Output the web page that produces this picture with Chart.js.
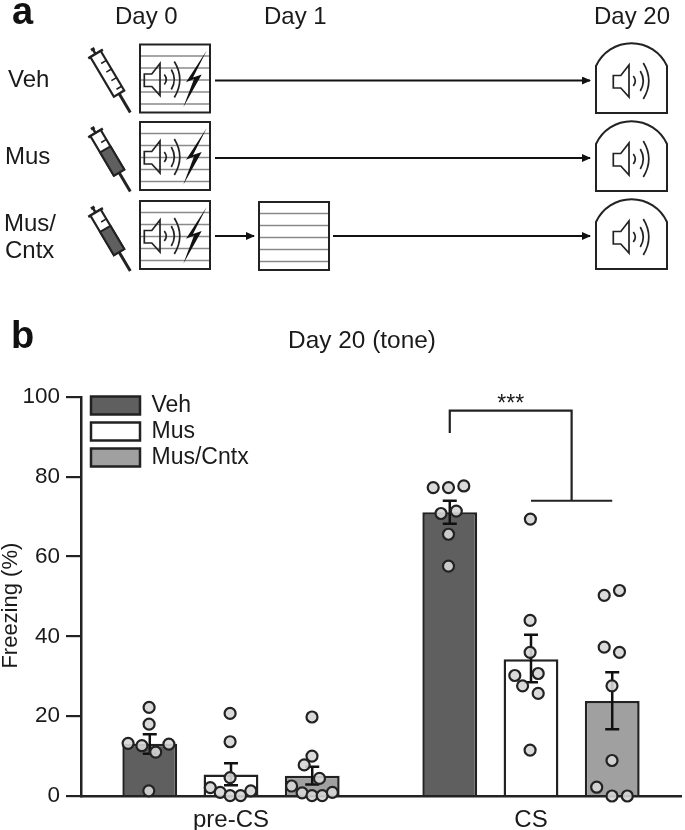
<!DOCTYPE html>
<html>
<head>
<meta charset="utf-8">
<title>Freezing</title>
<script src="https://cdn.jsdelivr.net/npm/chart.js@4"></script>
<style>
body{margin:0;background:#fff}
#wrap{position:relative;width:685px;height:830px;overflow:hidden}
#regions{position:absolute;left:0;top:0}
#scheme{position:absolute;left:0;top:0}
#scheme text{font-family:"Liberation Sans",Arial,sans-serif;font-size:24px;fill:#1a1a1a}
#scheme .panel{font-size:38px;font-weight:bold;fill:#111}
</style>
</head>
<body>
<div id="wrap">
<canvas id="regions" width="685" height="830"></canvas>
<svg id="scheme" width="685" height="280" viewBox="0 0 685 280">
  <defs>
    <g id="spk" fill="none" stroke="#222" stroke-width="1.7">
      <path d="M0,-5.5 H7.5 L15.7,-16 V16 L7.5,7 H0 Z"/>
      <path d="M20,-5 Q24,0 20,5"/>
      <path d="M27,-10 Q33,0 27,10"/>
      <path d="M30,-18 Q41,0 30,18"/>
    </g>
    <g id="box">
      <rect x="0" y="0" width="70" height="68" fill="#fff" stroke="#222" stroke-width="2"/>
      <path d="M1,11.5 H69 M1,23.5 H69 M1,35.5 H69 M1,47.5 H69 M1,59.5 H69" stroke="#8a8a8a" stroke-width="1.5"/>
    </g>
    <g id="shock">
      <use href="#box"/>
      <use href="#spk" x="4.3" y="35"/>
      <path d="M66.7,6 L46,37.7 L54,34.5 L43.3,62.7 L61.7,30 L53,33 Z" fill="#111"/>
    </g>
    <g id="chamber">
      <path d="M0,70 V23 A39,39 0 0 1 71,23 V70 Z" fill="#fff" stroke="#222" stroke-width="2"/>
      <use href="#spk" x="17.3" y="38"/>
    </g>
    <g id="syr" stroke="#222" fill="none">
      <rect x="-2" y="0" width="4" height="3" fill="#222" stroke="none"/>
      <path d="M0,2 V7 M-8.5,7 H8.5" stroke-width="2.5"/>
      <rect x="-6" y="7" width="12" height="46" fill="#fff" stroke-width="2.2"/>
      <path d="M0,18 H6 M0,28 H6 M0,38 H6 M0,48 H6" stroke-width="1.6"/>
      <path d="M0,53 V75" stroke-width="3"/>
    </g>
    <g id="syrFull">
      <use href="#syr"/>
      <rect x="-6" y="26" width="12" height="27" fill="#5f5f5f" stroke="#222" stroke-width="2"/>
    </g>
    <marker id="head" markerWidth="9" markerHeight="9" refX="8" refY="4" orient="auto" markerUnits="userSpaceOnUse">
      <path d="M0,0 L9,4 L0,8 Z" fill="#111"/>
    </marker>
  </defs>

  <text class="panel" x="12" y="24">a</text>
  <text x="115" y="24">Day 0</text>
  <text x="264" y="24">Day 1</text>
  <text x="594" y="24">Day 20</text>
  <text x="8" y="87">Veh</text>
  <text x="5" y="164">Mus</text>
  <text x="4" y="231">Mus/</text>
  <text x="5" y="258">Cntx</text>

  <use href="#syr" transform="translate(92,48) rotate(-30.7)"/>
  <use href="#syrFull" transform="translate(92,127) rotate(-30.7)"/>
  <use href="#syrFull" transform="translate(92,206.5) rotate(-30.7)"/>

  <use href="#shock" x="140" y="44.5"/>
  <use href="#shock" x="140" y="122"/>
  <use href="#shock" x="140" y="201"/>
  <use href="#box" x="259" y="202"/>

  <use href="#chamber" x="596" y="43"/>
  <use href="#chamber" x="596" y="121"/>
  <use href="#chamber" x="596" y="199"/>

  <g stroke="#111" stroke-width="2" marker-end="url(#head)">
    <line x1="215" y1="80.5" x2="590" y2="80.5"/>
    <line x1="215" y1="158" x2="590" y2="158"/>
    <line x1="215" y1="236" x2="254" y2="236"/>
    <line x1="333" y1="236" x2="590" y2="236"/>
  </g>
</svg>
</div>

<script>
// values
var groups = ["pre-CS", "CS"]
var yTicks = [0, 20, 40, 60, 80, 100]

var vehMean = [13.1, 71.1]
var musMean = [5.4, 34.3]
var cntxMean = [5.1, 23.8]

var vehErrHigh = [15.5, 74.0]
var vehErrLow = [10.6, 68.2]
var musErrHigh = [8.2, 40.4]
var musErrLow = [2.7, 28.5]
var cntxErrHigh = [7.3, 31.0]
var cntxErrLow = [2.9, 16.7]

// single animals, x is on the category axis: 0 = pre-CS, 1 = CS
var vehDotsX = [-.273, -.273, -.343, -.297, -.251, -.207, -.274, .674, .725, .776, .700, .751, .725, .725]
var vehDotsY = [22.2, 18.0, 13.2, 12.6, 11.0, 13.0, 1.3, 77.3, 77.3, 77.7, 70.8, 71.4, 65.6, 57.6]
var musDotsX = [-.003, -.003, -.003, -.069, -.036, -.003, .032, .066, .998, .997, .997, .946, 1.024, .972, 1.024, .997]
var musDotsY = [20.7, 13.6, 4.6, 2.1, 0.9, 0.1, 0.1, 1.3, 69.4, 44, 36, 30.2, 30.7, 27.6, 25.7, 11.5]
var cntxDotsX = [.270, .270, .244, .295, .202, .237, .270, .304, .338, 1.244, 1.295, 1.244, 1.295, 1.270, 1.270, 1.219, 1.270, 1.321]
var cntxDotsY = [19.8, 10, 7.8, 4.4, 2.5, 0.8, 0.1, 0.1, 0.9, 50.3, 51.5, 37.3, 36, 27.6, 8.9, 2.2, 0, 0]

var bracketTop = 96.6
var bracketLeftEnd = 91
var bracketRightEnd = 74
var stars = "***"

var ink = "#222"
var textInk = "#1a1a1a"
var fontName = '"Liberation Sans", Arial, sans-serif'

function GetDots(xs, ys){
    var dots = []
    for(var i = 0; i < xs.length; i++){
        dots.push({x: xs[i], y: ys[i]})
    }
    return dots
}

function BarSet(label, data, color){
    return {
        type: "bar",
        label: label,
        data: data,
        backgroundColor: color,
        borderColor: ink,
        borderWidth: 2.5,
        categoryPercentage: 0.8123,
        barPercentage: 0.675,
        order: 2
    }
}

function DotSet(xs, ys){
    return {
        type: "scatter",
        data: GetDots(xs, ys),
        // no parsing, the category axis would round the x values otherwise
        parsing: false,
        backgroundColor: "rgba(214,214,214,.9)",
        borderColor: ink,
        borderWidth: 2.2,
        pointRadius: 5.5,
        clip: false,
        order: 1
    }
}

// error bars go on right after their bars, so the dots sit on top
var errorBars = {
    id: "errorBars",
    afterDatasetDraw: function(chart, args){
        var highs = [vehErrHigh, musErrHigh, cntxErrHigh][args.index]
        var lows = [vehErrLow, musErrLow, cntxErrLow][args.index]
        if(!highs) return
        var ctx = chart.ctx
        var y = chart.scales.y
        ctx.save()
        ctx.strokeStyle = "#111"
        ctx.lineWidth = 2.5
        args.meta.data.forEach(function(bar, i){
            var top = y.getPixelForValue(highs[i])
            var bottom = y.getPixelForValue(lows[i])
            ctx.beginPath()
            ctx.moveTo(bar.x, top)
            ctx.lineTo(bar.x, bottom)
            ctx.moveTo(bar.x - 7, top)
            ctx.lineTo(bar.x + 7, top)
            ctx.moveTo(bar.x - 7, bottom)
            ctx.lineTo(bar.x + 7, bottom)
            ctx.stroke()
        })
        ctx.restore()
    }
}

var bracket = {
    id: "bracket",
    afterDatasetsDraw: function(chart){
        var ctx = chart.ctx
        var y = chart.scales.y
        var vehX = chart.getDatasetMeta(0).data[1].x
        var musX = chart.getDatasetMeta(1).data[1].x
        var cntxX = chart.getDatasetMeta(2).data[1].x
        var midX = (musX + cntxX) / 2
        var top = y.getPixelForValue(bracketTop)
        ctx.save()
        ctx.strokeStyle = ink
        ctx.lineWidth = 2.2
        ctx.beginPath()
        ctx.moveTo(vehX, y.getPixelForValue(bracketLeftEnd))
        ctx.lineTo(vehX, top)
        ctx.lineTo(midX, top)
        ctx.lineTo(midX, y.getPixelForValue(bracketRightEnd))
        ctx.moveTo(musX, y.getPixelForValue(bracketRightEnd))
        ctx.lineTo(cntxX, y.getPixelForValue(bracketRightEnd))
        ctx.stroke()
        ctx.fillStyle = textInk
        ctx.font = "23px " + fontName
        ctx.textAlign = "center"
        ctx.textBaseline = "alphabetic"
        ctx.fillText(stars, (vehX + midX) / 2, top)
        // panel letter
        ctx.textAlign = "left"
        ctx.font = "bold 38px " + fontName
        ctx.fillStyle = "#111"
        ctx.fillText("b", 11, 348)
        ctx.restore()
    }
}

// title and legend do not sit where chart.js would put them in the figure
var nudge = {
    id: "nudge",
    afterLayout: function(chart){
        chart.titleBlock.left += 43
        chart.legend.left += 7
        chart.legend.top = chart.chartArea.top - 6
        chart.legend.bottom = chart.chartArea.bottom
    }
}

var ctx = document.getElementById("regions")

var chart = new Chart(ctx, {
    data: {
        labels: groups,
        datasets: [
            BarSet("Veh", vehMean, "#5f5f5f"),
            BarSet("Mus", musMean, "#ffffff"),
            BarSet("Mus/Cntx", cntxMean, "#a0a0a0"),
            DotSet(vehDotsX, vehDotsY),
            DotSet(musDotsX, musDotsY),
            DotSet(cntxDotsX, cntxDotsY)
        ]
    },
    plugins: [errorBars, bracket, nudge],
    options: {
        responsive: false,
        animation: false,
        events: [],
        layout: {autoPadding: false, padding: {top: 0, left: 0, right: 4, bottom: 0}},
        plugins: {
            tooltip: {enabled: false},
            title: {
                display: true,
                text: "Day 20 (tone)",
                color: textInk,
                font: {family: fontName, size: 24.4, weight: "normal", lineHeight: 1.2},
                padding: {top: 327, bottom: 40.7}
            },
            legend: {
                position: "chartArea",
                align: "start",
                labels: {
                    boxWidth: 49,
                    boxHeight: 18,
                    padding: 3,
                    color: textInk,
                    font: {family: fontName, size: 23, lineHeight: 1},
                    filter: function(item){ return item.datasetIndex < 3 }
                }
            }
        },
        scales: {
            x: {
                type: "category",
                afterFit: function(scale){ scale.height = 34 },
                border: {color: ink, width: 2.5},
                grid: {display: false},
                ticks: {
                    color: textInk,
                    padding: 2,
                    maxRotation: 0,
                    font: {family: fontName, size: 24}
                }
            },
            y: {
                min: 0,
                max: 100,
                afterFit: function(scale){ scale.width = 81 },
                afterBuildTicks: function(scale){
                    scale.ticks = yTicks.map(function(v){ return {value: v} })
                },
                border: {color: ink, width: 2.5},
                grid: {
                    drawOnChartArea: false,
                    color: ink,
                    lineWidth: 2.2,
                    tickLength: 15
                },
                ticks: {
                    color: textInk,
                    padding: 6,
                    font: {family: fontName, size: 22.5}
                },
                title: {
                    display: true,
                    // trailing spaces push the word down the axis, as in the figure
                    text: "Freezing (%)   ",
                    color: textInk,
                    padding: 0,
                    font: {family: fontName, size: 22, lineHeight: 1}
                }
            }
        }
    }
})
</script>
</body>
</html>
